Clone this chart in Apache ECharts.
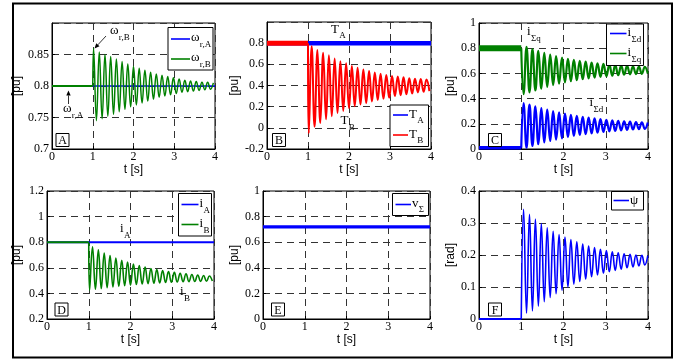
<!DOCTYPE html>
<html>
<head>
<meta charset="utf-8">
<script src="https://cdn.jsdelivr.net/npm/echarts@6/dist/echarts.min.js"></script>
<style>
  html, body { margin: 0; padding: 0; background: #fff; }
  #c { width: 681px; height: 360px; }
</style>
</head>
<body>
<div id="c"></div>
<script>
// ---- time base --------------------------------------------------------
const tTicks = [0, 1, 2, 3, 4];
const tStep = 1.0;            // disturbance instant [s]
const tEnd = 4.0;
// instants of successive swing extremes after the disturbance
const tFast = [1.02,1.09,1.16,1.23,1.30,1.37,1.44,1.51,1.58,1.65,1.72,1.79,1.86,1.93,2.00,2.07,2.14,2.21,2.28,2.35,2.42,2.49,2.56,2.63,2.70,2.77,2.84,2.91,2.98,3.05,3.12,3.19,3.26,3.33,3.40,3.47,3.54,3.61,3.68,3.75,3.82,3.89,3.96];
const tSlow = [1.055,1.125,1.195,1.265,1.335,1.405,1.475,1.545,1.615,1.685,1.755,1.825,1.895,1.965,2.035,2.105,2.175,2.245,2.315,2.385,2.455,2.525,2.595,2.665,2.735,2.805,2.875,2.945,3.015,3.085,3.155,3.225,3.295,3.365,3.435,3.505,3.575,3.645,3.715,3.785,3.855,3.925,3.995];

// ---- A: rotor speeds [pu] ---------------------------------------------
const omegaA0 = 0.8;
const omegaB0 = 0.8;
const omegaB = [0.860,0.745,0.854,0.748,0.850,0.752,0.847,0.755,0.843,0.759,0.839,0.763,0.835,0.767,0.831,0.770,0.828,0.773,0.825,0.776,0.822,0.779,0.819,0.782,0.817,0.784,0.815,0.786,0.813,0.788,0.811,0.790,0.809,0.791,0.808,0.792,0.807,0.793,0.806,0.794,0.806,0.795,0.805];

// ---- B: torques [pu] --------------------------------------------------
const TA0 = 0.8;
const TB0 = 0.8;
const TB = [-0.05,0.77,0.01,0.735,0.045,0.71,0.08,0.685,0.11,0.655,0.14,0.63,0.16,0.61,0.185,0.585,0.205,0.568,0.22,0.552,0.235,0.538,0.25,0.524,0.262,0.512,0.274,0.50,0.285,0.49,0.30,0.485,0.309,0.477,0.317,0.469,0.324,0.463,0.335,0.462,0.341,0.456,0.346];

// ---- C: summed dq currents [pu] --------------------------------------
const iSd0 = 0.01;
const iSq0 = 0.8;
const iSd = [0.365,0.01,0.353,0.024,0.339,0.038,0.325,0.052,0.312,0.064,0.30,0.075,0.29,0.085,0.28,0.095,0.271,0.103,0.263,0.111,0.255,0.118,0.249,0.124,0.243,0.13,0.237,0.135,0.232,0.14,0.228,0.144,0.224,0.148,0.22,0.152,0.217,0.155,0.214,0.157,0.212,0.159,0.21];
const iSq = [0.435,0.81,0.45,0.793,0.465,0.778,0.479,0.764,0.493,0.75,0.507,0.737,0.519,0.726,0.529,0.716,0.538,0.708,0.546,0.70,0.554,0.693,0.561,0.686,0.567,0.68,0.573,0.675,0.578,0.67,0.582,0.666,0.586,0.662,0.59,0.659,0.593,0.656,0.595,0.654,0.597,0.652,0.599];

// ---- D: machine currents [pu] ----------------------------------------
const iA0 = 0.8;
const iB0 = 0.8;
const iB = [0.425,0.765,0.432,0.74,0.438,0.716,0.444,0.695,0.45,0.676,0.455,0.659,0.46,0.644,0.465,0.63,0.469,0.617,0.473,0.605,0.476,0.595,0.479,0.586,0.482,0.578,0.485,0.571,0.487,0.564,0.489,0.558,0.491,0.553,0.492,0.548,0.493,0.544,0.494,0.54,0.495,0.536,0.496];

// ---- E: common voltage [pu] ------------------------------------------
const vS0 = 0.72;

// ---- F: angle between machines [rad] ---------------------------------
const psi0 = 0;
const psi = [0.343,0.018,0.327,0.025,0.312,0.04,0.298,0.054,0.285,0.067,0.274,0.079,0.264,0.09,0.256,0.1,0.248,0.109,0.241,0.117,0.234,0.125,0.228,0.132,0.223,0.138,0.218,0.143,0.214,0.148,0.21,0.152,0.207,0.156,0.204,0.16,0.202,0.163,0.2,0.166,0.199,0.169,0.198];

// ---- y axis scales -----------------------------------------------------
const yScales = [
  { min: 0.7,  max: 0.9, step: 0.05, name: '[pu]',  hideMax: true },
  { min: -0.2, max: 1.0, step: 0.2,  name: '[pu]',  hideMax: true },
  { min: 0,    max: 1.0, step: 0.2,  name: '[pu]' },
  { min: 0.2,  max: 1.2, step: 0.2,  name: '[pu]' },
  { min: 0,    max: 1.0, step: 0.2,  name: '[pu]' },
  { min: 0,    max: 0.4, step: 0.1,  name: '[rad]' }
];

// ---- colours & fonts ---------------------------------------------------
const BLUE = '#0000ff', GREEN = '#008000', RED = '#ff0000';
const SERIF = '"Liberation Serif","Times New Roman",serif';
const SANS = '"Liberation Sans",Arial,sans-serif';

// panel boxes in px: left, top, width, height, y-name gap
const boxes = [
  [52, 23, 163, 126, 29],
  [267, 22, 164, 127, 24],
  [479, 23, 169, 126, 19],
  [47, 191, 167, 128, 24],
  [263, 191, 167, 128, 22],
  [479, 191, 169, 128, 18]
];

const flat = (v) => [[tTicks[0], v], [tEnd, v]];
const pre = (v) => [[tTicks[0], v], [tStep, v]];
const swing = (v0, times, vals) => [[tStep, v0]].concat(times.map((t, k) => [t, vals[k]]));

const grids = [], xAxes = [], yAxes = [];
boxes.forEach((b, i) => {
  const ys = yScales[i];
  grids.push({ left: b[0], top: b[1], width: b[2], height: b[3], show: true,
    borderColor: '#000', borderWidth: 1, backgroundColor: 'transparent' });
  xAxes.push({
    gridIndex: i, type: 'value', min: tTicks[0], max: tTicks[tTicks.length - 1], interval: 1,
    name: 't [s]', nameLocation: 'middle', nameGap: i < 3 ? 14 : 13,
    nameTextStyle: { fontFamily: SANS, fontSize: 12, color: '#000' },
    axisLine: { onZero: false, lineStyle: { color: '#000', width: 1 } },
    axisTick: { inside: true, length: 3, lineStyle: { color: '#000' } },
    axisLabel: { color: '#000', fontFamily: SERIF, fontSize: 12, margin: 2 },
    splitLine: { show: true, lineStyle: { color: '#333', width: 1, type: [7, 5] } }
  });
  yAxes.push({
    gridIndex: i, type: 'value', min: ys.min, max: ys.max, interval: ys.step,
    name: ys.name, nameLocation: 'middle', nameGap: b[4],
    nameTextStyle: { fontFamily: SANS, fontSize: 12, color: '#000' },
    axisLine: { onZero: false, lineStyle: { color: '#000', width: 1 } },
    axisTick: { inside: true, length: 3, lineStyle: { color: '#000' } },
    axisLabel: { color: '#000', fontFamily: SERIF, fontSize: 12, margin: 3,
      showMaxLabel: !ys.hideMax },
    splitLine: { show: true, lineStyle: { color: '#333', width: 1, type: [7, 5] } }
  });
});

function line(i, name, data, color, width, smooth) {
  return { type: 'line', name, xAxisIndex: i, yAxisIndex: i, data,
    symbol: 'none', smooth: smooth ? 0.45 : false, animation: false,
    lineStyle: { color, width }, itemStyle: { color } };
}

const series = [
  // A
  line(0, 'omega_rA', flat(omegaA0), BLUE, 1.6),
  line(0, 'omega_rB', pre(omegaB0), GREEN, 1.8),
  line(0, 'omega_rB', swing(omegaB0, tFast, omegaB), GREEN, 1.5, true),
  // B
  line(1, 'T_A', flat(TA0), BLUE, 4.5),
  line(1, 'T_B', pre(TB0), RED, 5),
  line(1, 'T_B', swing(TB0, tFast, TB), RED, 2, true),
  // C
  line(2, 'i_Sd', pre(iSd0), BLUE, 3.5),
  line(2, 'i_Sd', swing(iSd0, tSlow, iSd), BLUE, 2.2, true),
  line(2, 'i_Sq', pre(iSq0), GREEN, 6),
  line(2, 'i_Sq', swing(iSq0, tSlow, iSq), GREEN, 2.2, true),
  // D
  line(3, 'i_A', flat(iA0), BLUE, 2),
  line(3, 'i_B', pre(iB0), GREEN, 2),
  line(3, 'i_B', swing(iB0, tFast, iB), GREEN, 1.6, true),
  // E
  line(4, 'v_S', flat(vS0), BLUE, 3.2),
  // F
  line(5, 'psi', pre(psi0), BLUE, 2),
  line(5, 'psi', swing(psi0, tSlow, psi), BLUE, 1.6, true)
];

// ---- text helpers for labels with subscripts --------------------------
const mctx = document.createElement('canvas').getContext('2d');
function tw(s, size, fam) { mctx.font = size + 'px ' + fam; return mctx.measureText(s).width; }
function txt(x, y, s, size, fam, align) {
  return { type: 'text', x, y, z: 100,
    style: { text: s, font: size + 'px ' + fam, fill: '#000', align: align || 'left', verticalAlign: 'middle' } };
}
function subLabel(x, yc, main, sub, dy) {
  const w = tw(main, 13, SERIF);
  return [txt(x, yc, main, 13, SERIF), txt(x + w + 0.3, yc + (dy == null ? 6 : dy), sub, 9, SERIF)];
}
function legendBox(x, y, w, h, rows) {
  const els = [{ type: 'rect', z: 90, shape: { x, y, width: w, height: h },
    style: { fill: '#fff', stroke: '#000', lineWidth: 1 } }];
  rows.forEach(r => {
    els.push({ type: 'line', z: 95, shape: { x1: r.x0, y1: r.y, x2: r.x1, y2: r.y },
      style: { stroke: r.color, lineWidth: 1.6 } });
    els.push(...subLabel(r.x1 + 1, r.y + (r.dm || 0), r.main, r.sub, r.ds));
  });
  return els;
}
function panelTag(x, y, s) {
  return [{ type: 'rect', z: 90, shape: { x, y, width: 13, height: 13 },
      style: { fill: 'transparent', stroke: '#000', lineWidth: 1 } },
    txt(x + 6.5, y + 7.5, s, 12, SERIF, 'center')];
}
function arrow(x1, y1, x2, y2) {
  const a = Math.atan2(y2 - y1, x2 - x1), L = 5, W = 2.2;
  const bx = x2 - L * Math.cos(a), by = y2 - L * Math.sin(a);
  return [{ type: 'line', z: 95, shape: { x1, y1, x2: bx, y2: by }, style: { stroke: '#000', lineWidth: 0.8 } },
    { type: 'polygon', z: 95, shape: { points: [[x2, y2],
      [bx - W * Math.sin(a), by + W * Math.cos(a)], [bx + W * Math.sin(a), by - W * Math.cos(a)]] },
      style: { fill: '#000' } }];
}

const graphic = [
  { type: 'rect', z: 80, shape: { x: 13, y: 3.5, width: 659, height: 354 },
    style: { fill: 'transparent', stroke: '#000', lineWidth: 2 } },
  // panel tags
  ...panelTag(56, 133.5, 'A'), ...panelTag(272.5, 133.5, 'B'), ...panelTag(488.5, 133.5, 'C'),
  ...panelTag(55, 303, 'D'), ...panelTag(271.5, 303, 'E'), ...panelTag(488.5, 303, 'F'),
  // legends
  ...legendBox(168, 27.5, 45, 42.5, [
    { color: BLUE, y: 39, x0: 171, x1: 190, main: 'ω', sub: 'r,A', dm: -1, ds: 7 },
    { color: GREEN, y: 59, x0: 171, x1: 190, main: 'ω', sub: 'r,B', dm: -1, ds: 7 }]),
  ...legendBox(390, 105, 38.5, 41.5, [
    { color: BLUE, y: 115, x0: 393, x1: 408, main: 'T', sub: 'A' },
    { color: RED, y: 135, x0: 393, x1: 408, main: 'T', sub: 'B' }]),
  ...legendBox(606.5, 24, 37, 41.5, [
    { color: BLUE, y: 33.5, x0: 610, x1: 626.5, main: 'i', sub: 'Σd', dm: -1, ds: 7 },
    { color: GREEN, y: 53.5, x0: 610, x1: 626.5, main: 'i', sub: 'Σq', dm: -1, ds: 7 }]),
  ...legendBox(178.5, 193.5, 33, 42.5, [
    { color: BLUE, y: 204.5, x0: 181.5, x1: 198.5, main: 'i', sub: 'A', dm: -1, ds: 7 },
    { color: GREEN, y: 224.5, x0: 181.5, x1: 198.5, main: 'i', sub: 'B', dm: -1, ds: 7 }]),
  ...legendBox(392.5, 193.5, 36, 22, [
    { color: BLUE, y: 204.5, x0: 395.5, x1: 411, main: 'v', sub: 'Σ', dm: -1, ds: 6 }]),
  ...legendBox(611.5, 191.5, 32, 18.5, [
    { color: BLUE, y: 200.5, x0: 613.5, x1: 629, main: 'ψ', sub: '' }]),
  // curve annotations
  ...subLabel(110, 31, 'ω', 'r,B', 7), ...arrow(106, 36, 94.5, 48.5),
  ...subLabel(63, 109, 'ω', 'r,A', 7), ...arrow(68.5, 104, 68.5, 90.5),
  ...subLabel(331, 30, 'T', 'A'), ...subLabel(340.5, 121, 'T', 'B', 7),
  ...subLabel(527, 32, 'i', 'Σq', 7), ...subLabel(589.5, 103, 'i', 'Σd', 7),
  ...subLabel(120, 228.5, 'i', 'A', 7), ...subLabel(180, 292, 'i', 'B', 7)
];

const chart = echarts.init(document.getElementById('c'), null, { renderer: 'canvas' });
chart.setOption({
  backgroundColor: '#fff',
  animation: false,
  grid: grids, xAxis: xAxes, yAxis: yAxes, series, graphic
});
</script>
</body>
</html>
